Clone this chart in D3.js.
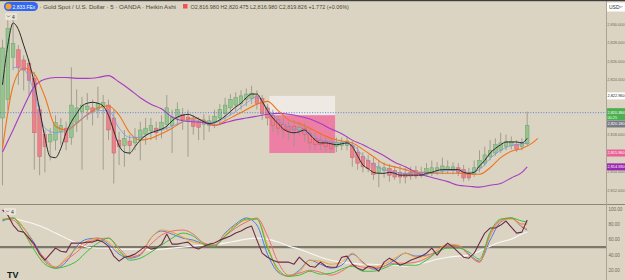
<!DOCTYPE html>
<html><head><meta charset="utf-8">
<script src="https://cdn.jsdelivr.net/npm/d3@7"></script>
<style>html,body{margin:0;padding:0;background:#dbd4c2;overflow:hidden}</style>
</head><body><svg id="c" width="625" height="280"></svg>
<script>
// ---------- DATA ----------
const haOpen=[2819.8,2821.8,2826.4,2827.2,2826.1,2825.7,2824.1,2820.7,2818.0,2817.2,
2817.4,2818.3,2818.7,2817.7,2819.3,2820.5,2820.7,2820.9,2820.7,2821.0,
2821.2,2819.8,2817.4,2816.8,2817.3,2817.1,2817.4,2818.0,2818.4,2818.7,
2818.5,2819.1,2819.0,2819.8,2820.2,2819.9,2819.6,2819.4,2819.1,2819.0,
2819.4,2819.8,2820.3,2820.9,2821.2,2821.4,2821.8,2821.9,2822.2,2821.9,
2820.9,2820.1,2819.6,2819.1,2818.9,2818.9,2818.5,2818.7,2818.1,2817.6,
2817.4,2817.3,2817.1,2816.7,2816.8,2816.8,2816.8,2816.1,2815.6,2815.2,
2814.9,2813.9,2814.1,2814.3,2814.1,2813.9,2813.8,2813.9,2814.1,2813.9,
2813.7,2813.8,2814.1,2814.1,2814.2,2814.1,2814.4,2814.2,2813.8,2813.7,
2814.4,2814.9,2815.6,2816.0,2816.3,2816.7,2816.8,2816.9,2816.7,2817.0];
const haHigh=[2828.3,2830.4,2831.0,2827.7,2826.6,2826.1,2824.8,2821.2,2818.5,2818.7,
2820.1,2819.8,2819.4,2825.3,2822.9,2822.1,2822.5,2821.8,2823.2,2822.3,
2821.8,2820.7,2818.3,2818.5,2818.0,2818.7,2819.4,2819.8,2819.8,2819.4,
2820.1,2822.3,2820.7,2821.5,2820.9,2820.7,2820.1,2819.9,2820.2,2820.1,
2820.7,2821.3,2822.0,2822.4,2822.6,2822.8,2823.0,2823.3,2822.8,2822.3,
2821.3,2820.7,2820.1,2819.8,2819.5,2819.6,2819.4,2819.3,2818.6,2818.2,
2818.0,2817.8,2817.6,2817.7,2817.7,2817.8,2817.3,2816.7,2816.1,2815.8,
2815.5,2815.2,2815.0,2814.8,2814.6,2814.6,2814.4,2814.5,2814.6,2814.5,
2814.9,2815.2,2815.0,2815.5,2815.2,2815.0,2814.9,2814.7,2814.4,2815.2,
2816.3,2816.7,2817.4,2817.6,2818.2,2818.0,2817.8,2817.4,2817.6,2820.5];
const haLow=[2812.5,2820.7,2825.0,2823.4,2822.8,2822.3,2814.2,2813.6,2813.9,2815.2,
2816.3,2816.9,2816.3,2816.9,2818.3,2814.2,2819.6,2819.0,2819.8,2814.2,
2817.4,2812.7,2814.7,2814.5,2815.8,2816.3,2815.2,2816.9,2817.4,2817.4,
2817.6,2818.5,2816.0,2819.0,2818.5,2815.6,2818.0,2817.4,2817.4,2818.3,
2818.7,2819.0,2819.6,2820.1,2820.5,2820.7,2821.1,2821.3,2820.7,2819.6,
2819.0,2818.3,2818.0,2817.6,2817.4,2816.7,2817.8,2817.2,2816.3,2816.3,
2816.3,2816.1,2816.0,2816.1,2816.3,2816.3,2814.5,2814.2,2813.9,2813.9,
2813.1,2812.3,2813.3,2812.9,2813.1,2812.7,2812.7,2813.1,2813.2,2813.3,
2813.4,2813.5,2813.6,2813.7,2813.8,2813.7,2813.5,2812.9,2813.0,2813.4,
2813.9,2814.6,2815.2,2815.7,2816.0,2816.3,2816.4,2816.1,2816.3,2816.8];
const haClose=[2827.4,2829.5,2827.9,2825.3,2825.0,2823.9,2818.2,2815.6,2816.7,2818.0,
2819.3,2819.0,2817.2,2821.2,2820.9,2821.2,2821.1,2820.5,2821.4,2821.5,
2818.5,2816.0,2816.7,2817.6,2816.8,2817.7,2818.5,2818.7,2819.0,2818.2,
2819.3,2820.9,2819.9,2820.7,2819.6,2819.4,2818.9,2818.8,2819.6,2819.5,
2820.0,2820.7,2821.2,2821.8,2822.0,2822.2,2822.4,2822.5,2821.4,2820.3,
2819.8,2819.0,2818.7,2818.5,2818.5,2818.5,2818.8,2818.0,2817.1,2816.9,
2816.9,2816.7,2816.5,2817.2,2817.2,2817.3,2815.5,2814.9,2814.5,2814.3,
2813.7,2814.5,2814.4,2813.6,2813.4,2813.4,2813.4,2813.5,2813.5,2813.6,
2814.3,2814.4,2814.4,2814.6,2814.5,2814.5,2813.9,2813.3,2813.3,2814.4,
2815.2,2815.8,2816.3,2816.9,2817.1,2817.2,2817.2,2816.4,2817.1,2819.0];

// moving averages (price pane)
const maBlack=[2823.4,2827.7,2830.1,2829.4,2827.7,2825.9,2823.6,2820.7,2817.7,2815.6,
2815.5,2816.5,2818.2,2819.4,2820.3,2821.1,2821.4,2821.5,2821.4,2821.1,
2820.1,2818.4,2816.8,2816.1,2816.0,2816.7,2817.4,2817.9,2818.2,2818.4,
2818.6,2818.9,2819.5,2819.9,2820.1,2820.2,2820.0,2819.7,2819.4,2819.2,
2819.3,2819.6,2820.0,2820.5,2821.0,2821.4,2822.0,2822.4,2822.4,2821.6,
2820.6,2819.8,2819.2,2818.6,2818.3,2818.2,2818.3,2818.5,2818.0,2817.4,
2817.1,2817.1,2817.0,2816.9,2817.0,2817.1,2816.7,2815.7,2814.7,2814.3,
2813.9,2813.8,2813.8,2813.9,2813.8,2813.6,2813.6,2813.6,2813.6,2813.6,
2813.8,2813.9,2814.1,2814.2,2814.2,2814.2,2814.2,2813.9,2813.8,2813.9,
2814.6,2815.2,2816.0,2816.5,2816.9,2817.2,2817.2,2817.2,2817.1,2817.6];
const maBlue=[2825.3,2825.1,2822.6,2818.7,2818.2,2818.4,2819.3,2820.1,2820.6,2820.6,
2818.7,2817.7,2817.7,2818.2,2818.5,2818.9,2819.4,2819.6,2819.4,2819.3,
2819.8,2820.5,2821.4,2822.1,2820.8,2819.6,2818.8,2818.5,2818.1,2817.4,
2817.2,2817.1,2816.9,2815.7,2814.7,2814.2,2813.9,2813.8,2813.8,2813.9,
2813.9,2814.1,2814.1,2813.9,2814.2,2815.4,2816.3,2816.8,2817.0,2817.1];
const maOrange=[2816.5,2823.3,2825.2,2824.6,2822.1,2818.9,2818.5,2819.2,2820.2,2820.9,
2821.1,2820.1,2818.2,2817.4,2817.6,2818.1,2818.7,2819.4,2819.8,2819.5,
2819.0,2819.5,2820.1,2820.7,2821.3,2821.6,2820.6,2819.6,2819.2,2818.7,
2818.1,2817.6,2817.3,2817.1,2816.4,2815.6,2814.8,2814.5,2814.2,2813.9,
2813.9,2813.8,2813.8,2813.8,2813.7,2813.7,2814.4,2815.5,2816.2,2816.5,
2817.1,2817.6];
const maPurple=[2816.1,2818.5,2821.0,2823.2,2824.0,2824.2,2824.2,2824.1,2824.1,2824.2,
2824.4,2823.7,2822.9,2822.0,2821.3,2820.8,2819.9,2819.5,2819.4,2819.3,
2819.0,2819.3,2819.6,2819.8,2820.0,2820.2,2820.3,2820.2,2820.0,2819.7,
2819.2,2818.6,2818.1,2817.4,2816.9,2816.3,2815.7,2815.0,2814.5,2813.9,
2813.5,2813.2,2812.9,2812.5,2812.4,2812.3,2812.5,2812.7,2813.3,2813.9,
2814.5];

// zone (bars / prices)
const zoneBars=[50.35,62.75];
const zonePrices=[2822.2,2820.1,2816.0];

// oscillator pane
const oscMaroon=[98.7,92.1,78.9,71.1,69.7,61.8,53.9,40.8,32.9,40.8,
48.7,44.7,43.4,55.3,55.3,55.3,56.6,56.6,59.2,56.6,
51.3,38.2,31.6,36.8,38.2,40.8,46.1,51.3,47.4,48.7,
53.9,67.1,53.9,53.9,55.3,56.6,50.0,47.4,51.3,53.9,
55.3,59.2,61.8,64.5,68.4,71.1,75.0,77.6,59.2,42.1,
36.8,32.9,30.3,30.3,30.3,27.6,36.8,30.3,25.0,23.7,
30.3,25.0,23.7,23.7,36.8,38.2,27.6,22.4,19.7,25.0,
23.7,18.4,30.3,35.5,31.6,26.3,28.9,32.9,35.5,38.2,
42.1,48.7,39.5,48.7,55.3,50.0,43.4,36.8,35.5,42.1,
55.3,68.4,75.0,75.0,78.9,84.2,76.3,68.4,69.7,85.5];
const oscBlue=[84.2,88.2,75.0,55.3,32.9,22.4,30.3,51.3,60.5,61.8,
53.9,40.8,35.5,39.5,61.8,71.1,67.1,61.8,59.2,53.9,
52.6,68.4,80.3,88.2,78.9,40.8,17.1,11.8,19.7,32.9,
27.6,22.4,26.3,40.8,30.3,21.1,25.0,32.9,42.1,38.2,
39.5,43.4,52.6,51.3,40.8,31.6,59.2,82.9,88.2,76.3,72.4];
const oscOrange=[85.5,88.2,75.0,52.6,30.3,23.7,35.5,48.7,57.9,61.8,
56.6,43.4,36.8,40.8,61.8,72.4,69.7,63.2,56.6,53.9,
52.6,67.1,78.9,85.5,86.8,52.6,18.4,11.8,17.1,32.9,
31.6,27.6,30.3,42.1,28.9,23.7,27.6,35.5,42.1,36.8,
38.2,46.1,53.9,52.6,39.5,30.3,64.5,84.2,86.8,77.6,73.7];
const oscRed=[86.8,85.5,69.7,51.3,35.5,23.7,32.9,43.4,55.3,60.5,
61.8,48.7,36.8,40.8,53.9,65.8,71.1,72.4,67.1,55.3,
52.6,64.5,75.0,82.9,88.2,64.5,30.3,13.2,15.8,19.7,
17.1,13.2,18.4,26.3,23.7,22.4,25.0,28.9,28.9,30.3,
35.5,43.4,51.3,51.3,39.5,30.3,67.1,85.5,88.2,80.3,80.3];
const oscGreen=[85.5,88.2,69.7,46.1,27.6,22.4,25.0,31.6,44.7,55.3,
61.8,46.1,32.9,35.5,43.4,52.6,61.8,68.4,64.5,53.9,
51.3,64.5,77.6,86.8,86.8,48.7,21.1,11.8,13.2,18.4,
14.5,15.8,21.1,25.0,18.4,18.4,22.4,27.6,26.3,26.3,
32.9,43.4,48.7,48.7,43.4,34.2,69.7,86.8,88.2,84.2,82.9];
const oscWhite=[88.2,84.2,80.3,75.0,68.4,61.8,55.3,50.0,48.7,48.7,
47.4,47.4,47.4,46.1,47.4,48.7,50.0,51.3,52.6,53.9,
55.3,57.9,60.5,61.8,60.5,56.6,51.3,47.4,42.1,36.8,
32.9,30.3,28.9,27.6,27.6,26.3,26.3,25.0,27.6,30.3,
34.2,36.8,38.2,39.5,44.7,51.3,56.6,60.5,67.1,69.7];

const priceTicks=[2812,2814,2818,2824,2826,2828,2830];
const oscTicks=[20,40,60,80,100];
const oscMid=50;
const lastPrice=2820.38;
const titleText="· Gold Spot / U.S. Dollar · 5 · OANDA · Heikin Ashi";
const ohlcText="O2,816.980 H2,820.475 L2,816.980 C2,819.826 +1.772 (+0.06%)";

// index sets for line series
const allIdx=d3.range(0,100);
const evenIdx=d3.range(0,100,2).concat([99]);
const evenIdx2=d3.range(2,100,2).concat([99]);
const orangeIdx=d3.range(0,102,2).concat([101]);

// ---------- DRAW ----------
const W=625,H=280;
const font="'Liberation Sans', Arial, sans-serif";
const AF=3.9; // price axis font size
const svg=d3.select('#c');
svg.append('rect').attr('width',W).attr('height',H).attr('fill','#dbd4c2');
const defs=svg.append('defs');
defs.append('clipPath').attr('id','cp').append('rect').attr('x',0).attr('y',0).attr('width',606).attr('height',204);
defs.append('clipPath').attr('id','ci').append('rect').attr('x',0).attr('y',205).attr('width',606).attr('height',75);

const x=d3.scaleLinear().domain([0,99]).range([2.5,527.2]);
const y=d3.scaleLinear().domain([2812,2830]).range([189.9,24]);
const yi=d3.scaleLinear().domain([20,100]).range([270,209]);

const gp=svg.append('g').attr('clip-path','url(#cp)');
// zone
gp.append('rect').attr('x',x(zoneBars[0])).attr('width',x(zoneBars[1])-x(zoneBars[0]))
  .attr('y',y(zonePrices[0])).attr('height',y(zonePrices[1])-y(zonePrices[0])).attr('fill','#eeeae3');
gp.append('rect').attr('x',x(zoneBars[0])).attr('width',x(zoneBars[1])-x(zoneBars[0]))
  .attr('y',y(zonePrices[1])).attr('height',y(zonePrices[2])-y(zonePrices[1])).attr('fill','#ec7fa3');

// candles
const candles=allIdx.map(i=>({i,o:haOpen[i],h:haHigh[i],l:haLow[i],c:haClose[i]}));
gp.selectAll('line.w').data(candles).join('line').attr('class','w')
  .attr('x1',d=>x(d.i)).attr('x2',d=>x(d.i)).attr('y1',d=>y(d.h)).attr('y2',d=>y(d.l))
  .attr('stroke','#9d978a').attr('stroke-width',0.9);
gp.selectAll('rect.b').data(candles).join('rect').attr('class','b')
  .attr('x',d=>x(d.i)-1.8).attr('width',3.6)
  .attr('y',d=>y(Math.max(d.o,d.c))).attr('height',d=>Math.max(0.8,Math.abs(y(d.o)-y(d.c))))
  .attr('fill',d=>d.c>=d.o?'#95c491':'#e8828b')
  .attr('stroke',d=>d.c>=d.o?'#6a9f67':'#cc5d69').attr('stroke-width',0.5);

// current price dotted line
gp.append('line').attr('x1',0).attr('x2',606).attr('y1',y(lastPrice)).attr('y2',y(lastPrice))
  .attr('stroke','#4f76e8').attr('stroke-width',0.9).attr('stroke-dasharray','1,1.6');

function drawLine(g,idx,vals,sc,color,w){
  const ln=d3.line().x(d=>x(d[0])).y(d=>sc(d[1])).curve(d3.curveMonotoneX);
  g.append('path').attr('d',ln(idx.map((k,j)=>[k,vals[j]]))).attr('fill','none')
   .attr('stroke',color).attr('stroke-width',w).attr('stroke-linejoin','round');
}
drawLine(gp,evenIdx,maPurple,y,'#a53dc5',1.1);
drawLine(gp,orangeIdx,maOrange,y,'#f0741c',1.1);
drawLine(gp,evenIdx2,maBlue,y,'#7b95ea',0.8);
drawLine(gp,allIdx,maBlack,y,'#2a2a2a',1.0);

// pane separator & axis line
svg.append('line').attr('x1',0).attr('x2',W).attr('y1',204.5).attr('y2',204.5).attr('stroke','#8c867a').attr('stroke-width',1.2);
svg.append('line').attr('x1',606.5).attr('x2',606.5).attr('y1',0).attr('y2',H).attr('stroke','#aaa497').attr('stroke-width',1);
svg.append('rect').attr('x',0).attr('y',0).attr('width',W).attr('height',1.2).attr('fill','#3d3d3d');

// oscillator pane
const gi=svg.append('g').attr('clip-path','url(#ci)');
gi.append('line').attr('x1',0).attr('x2',606).attr('y1',yi(oscMid)).attr('y2',yi(oscMid)).attr('stroke','#7d776b').attr('stroke-width',2.2);
drawLine(gi,evenIdx2,oscWhite,yi,'#f7f7f5',1.1);
drawLine(gi,evenIdx,oscBlue,yi,'#4c7af0',1.0);
drawLine(gi,evenIdx,oscOrange,yi,'#f5a020',1.0);
drawLine(gi,evenIdx,oscRed,yi,'#f26c6c',1.0);
drawLine(gi,evenIdx,oscGreen,yi,'#3bbf3b',1.0);
const lnM=d3.line().x((d,j)=>x(j)).y(d=>yi(d));
gi.append('path').attr('d',lnM(oscMaroon)).attr('fill','none').attr('stroke','#6d2b47').attr('stroke-width',1.1).attr('stroke-linejoin','round');

// axes
const ax=svg.append('g').attr('transform','translate(606,0)')
  .call(d3.axisRight(y).tickValues(priceTicks).tickFormat(d3.format(',.3f')).tickSize(0).tickPadding(1.3));
const ax2=svg.append('g').attr('transform','translate(606,0)')
  .call(d3.axisRight(yi).tickValues(oscTicks).tickFormat(d3.format('.2f')).tickSize(0).tickPadding(2.5));
ax.select('.domain').remove(); ax2.select('.domain').remove();
ax.selectAll('text').attr('font-family',font).attr('font-size',AF).attr('fill','#6f6a5f');
ax2.selectAll('text').attr('font-family',font).attr('font-size',4.5).attr('fill','#6f6a5f');

// right side tags
function tag(cy,txt,bg,fg,h){
  svg.append('rect').attr('x',607).attr('y',cy-h/2).attr('width',18).attr('height',h).attr('fill',bg);
  svg.append('text').attr('x',607.4).attr('y',cy+1.4).attr('font-family',font).attr('font-size',AF).attr('fill',fg).text(txt);
}
tag(y(zonePrices[0]),'2,822.960','#ffffff','#222',7);
svg.append('rect').attr('x',607).attr('y',y(lastPrice)-4.5).attr('width',18).attr('height',12).attr('fill','#4caf50');
svg.append('text').attr('x',607.4).attr('y',y(lastPrice)+1.4).attr('font-family',font).attr('font-size',AF).attr('fill','#fff').text('2,820.384');
svg.append('text').attr('x',607.4).attr('y',y(lastPrice)+6.1).attr('font-family',font).attr('font-size',AF).attr('fill','#eaffea').text('00:25');
tag(y(lastPrice)+11.3,'2,820.180','#787b86','#fff',7);
tag(y(zonePrices[2]),'2,815.960','#ec5f97','#fff',7);
tag(y(maPurple[maPurple.length-1]),'2,814.930','#9c27b0','#fff',7);
// USD box
svg.append('rect').attr('x',607).attr('y',2.5).attr('width',18).attr('height',9).attr('fill','#ffffff');
svg.append('text').attr('x',609).attr('y',9.2).attr('font-family',font).attr('font-size',5).attr('fill','#333').text('USD');
svg.append('path').attr('d','M619.5,6 l1.5,1.5 l1.5,-1.5').attr('fill','none').attr('stroke','#555').attr('stroke-width',0.6);

// header
svg.append('rect').attr('x',4).attr('y',2).attr('width',34).attr('height',9).attr('rx',4.5).attr('fill','#3467ee');
svg.append('circle').attr('cx',8.5).attr('cy',6.5).attr('r',3).attr('fill','#f2a22e');
svg.append('text').attr('x',12.5).attr('y',8.7).attr('font-family',font).attr('font-size',5).attr('fill','#fff').text('2,833.FEx');
svg.append('text').attr('x',39.5).attr('y',8.8).attr('font-family',font).attr('font-size',6.1).attr('fill','#4a4740').text(titleText);
svg.append('rect').attr('x',183).attr('y',4).attr('width',4.5).attr('height',4.5).attr('fill','#ef5350');
svg.append('text').attr('x',190.5).attr('y',8.8).attr('font-family',font).attr('font-size',5.45).attr('fill','#4a4740').text(ohlcText);
// legend chips
function chip(cx,cy){
  svg.append('rect').attr('x',cx).attr('y',cy).attr('width',12).attr('height',7).attr('rx',1).attr('fill','#ece7dc').attr('opacity',0.8);
  svg.append('path').attr('d',`M${cx+2},${cy+2.5} l1.5,1.5 l1.5,-1.5`).attr('fill','none').attr('stroke','#555').attr('stroke-width',0.6);
  svg.append('text').attr('x',cx+7).attr('y',cy+5.5).attr('font-family',font).attr('font-size',5).attr('fill','#333').text('4');
}
chip(5,13); chip(4,208);
// TV logo
svg.append('text').attr('x',7).attr('y',278).attr('font-family',font).attr('font-weight',900).attr('font-size',9).attr('fill','#131722').text('TV');
</script></body></html>
